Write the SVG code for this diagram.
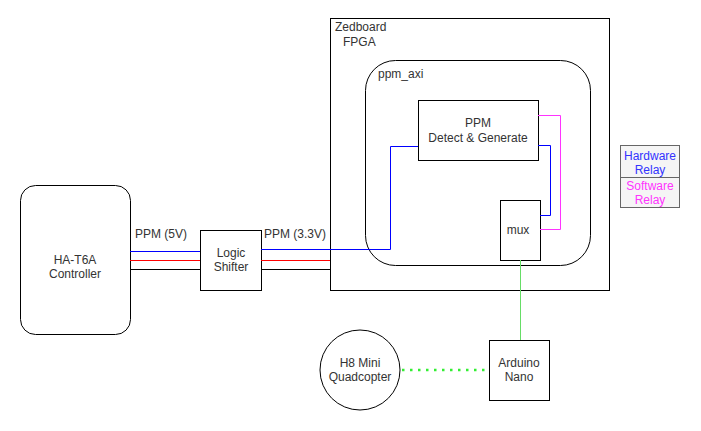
<svg xmlns="http://www.w3.org/2000/svg" width="701" height="431" viewBox="0 0 701 431">
<style>
text{font-family:"Liberation Sans",Arial,sans-serif;font-size:12px;fill:#333}
.c{text-anchor:middle}
.box{fill:#fff;stroke:#000;stroke-width:1}
.w{fill:none;stroke-width:1}
</style>
<rect width="701" height="431" fill="#fff"/>
<g id="zedboard"><rect class="box" x="330.5" y="18.5" width="279" height="272"/><text x="335" y="31">Zedboard</text><text x="343" y="46">FPGA</text></g>
<g id="ppm_axi"><rect class="box" x="365.5" y="60.5" width="225" height="205" rx="30"/><text x="378" y="78">ppm_axi</text></g>
<g id="controller"><rect class="box" x="20.5" y="185.5" width="110" height="149" rx="15"/><text class="c" x="75" y="264">HA-T6A</text><text class="c" x="75" y="278">Controller</text></g>
<g id="shifter"><rect class="box" x="200.5" y="230.5" width="61" height="60"/><text class="c" x="231" y="257">Logic</text><text class="c" x="231" y="271">Shifter</text></g>
<g id="ppm"><rect class="box" x="418.5" y="100.5" width="120" height="60"/><text class="c" x="478" y="127">PPM</text><text class="c" x="478" y="142">Detect &amp; Generate</text></g>
<g id="mux"><rect class="box" x="500.5" y="200.5" width="40" height="60"/><text class="c" x="518" y="234">mux</text></g>
<g id="arduino"><rect class="box" x="489.5" y="340.5" width="60" height="60"/><text class="c" x="519" y="367">Arduino</text><text class="c" x="519" y="381">Nano</text></g>
<g id="quadcopter"><circle class="box" cx="360" cy="370" r="40"/><text class="c" x="360" y="367">H8 Mini</text><text class="c" x="360" y="381">Quadcopter</text></g>
<g id="legend">
<rect x="620.5" y="145.5" width="59" height="32" fill="#f5f5f5" stroke="#666"/>
<rect x="620.5" y="177.5" width="59" height="30" fill="#f5f5f5" stroke="#666"/>
<text class="c" x="650" y="160" style="fill:#3333ff">Hardware</text><text class="c" x="650" y="174" style="fill:#3333ff">Relay</text>
<text class="c" x="650" y="190" style="fill:#ff33ff">Software</text><text class="c" x="650" y="204" style="fill:#ff33ff">Relay</text>
</g>
<g id="connectors">
<path class="w" stroke="#0000ff" d="M130 251.5H200"/>
<path class="w" stroke="#ff0000" d="M130 260.5H200"/>
<path class="w" stroke="#000" d="M130 269.5H200"/>
<path class="w" stroke="#0000ff" d="M261 249.5H390.5V146.5H418"/>
<path class="w" stroke="#ff0000" d="M261 260.5H330"/>
<path class="w" stroke="#000" d="M261 269.5H330"/>
<path class="w" stroke="#0000ff" d="M538 145.5H550.5V215.5H540"/>
<path class="w" stroke="#ff33ff" d="M538 115.5H560.5V229.5H540"/>
<path class="w" stroke="#66dd66" d="M520.5 260V340"/>
<path fill="none" stroke="#33ee33" stroke-width="2.5" stroke-dasharray="2.5 5.5" d="M402 370H489"/>
</g>
<text x="135" y="238">PPM (5V)</text>
<text x="264" y="238">PPM (3.3V)</text>
</svg>
